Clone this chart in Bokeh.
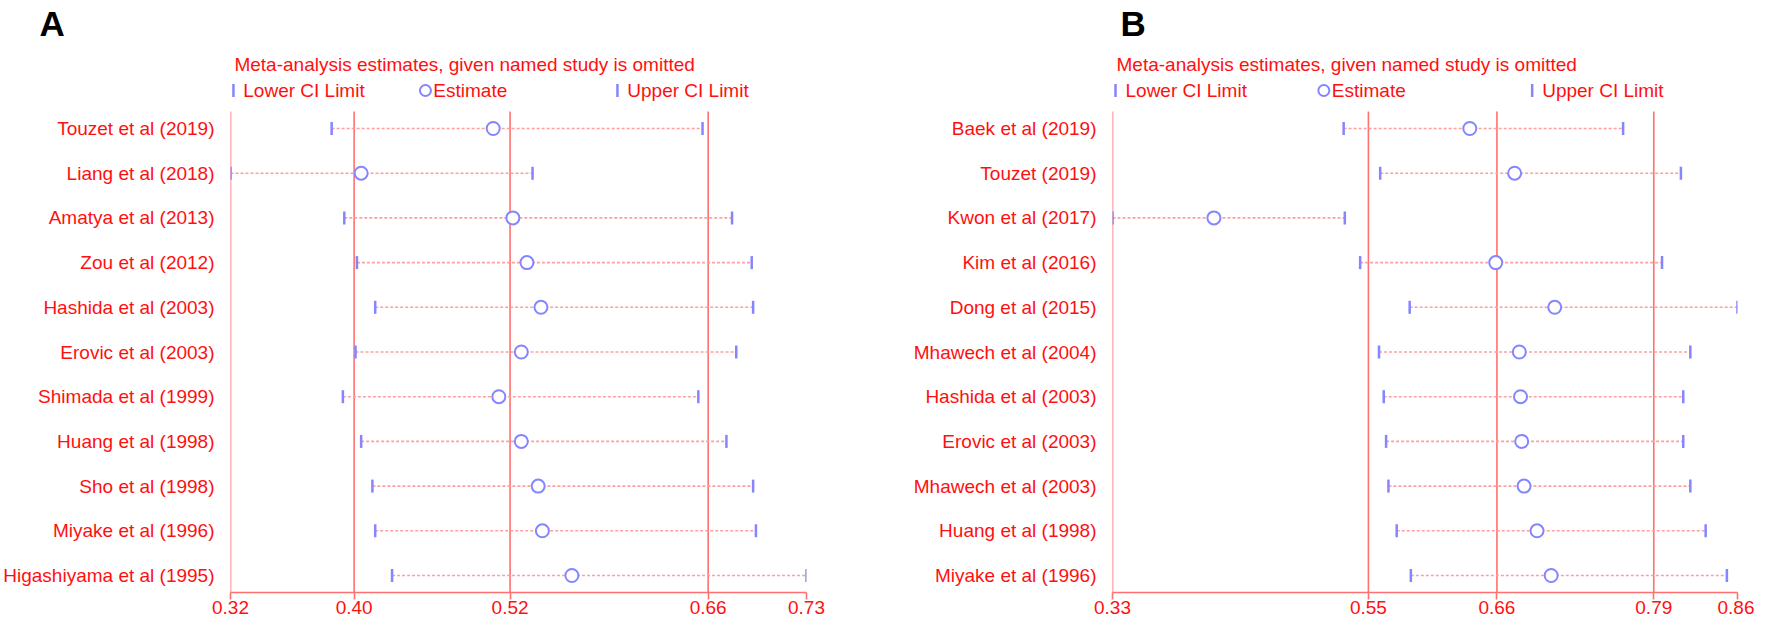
import numpy as np
from bokeh.plotting import figure
from bokeh.models import Range1d, FixedTicker, Title
from bokeh.layouts import row
from bokeh.core.properties import value
from bokeh.embed import file_html
from bokeh.resources import INLINE

# ---------------- data ----------------
a_studies = ["Touzet et al (2019)", "Liang et al (2018)", "Amatya et al (2013)", "Zou et al (2012)",
             "Hashida et al (2003)", "Erovic et al (2003)", "Shimada et al (1999)", "Huang et al (1998)",
             "Sho et al (1998)", "Miyake et al (1996)", "Higashiyama et al (1995)"]
a_lower = [0.392, 0.320, 0.401, 0.410, 0.423, 0.409, 0.400, 0.413, 0.421, 0.423, 0.435]
a_est = [0.507, 0.413, 0.521, 0.531, 0.541, 0.527, 0.511, 0.527, 0.539, 0.542, 0.563]
a_upper = [0.656, 0.535, 0.677, 0.691, 0.692, 0.680, 0.653, 0.673, 0.692, 0.694, 0.730]
a_overall = [0.408, 0.519, 0.660]          # overall lower CI, estimate, upper CI
a_axis_min, a_axis_max = 0.32, 0.73
a_tick_labels = ["0.32", "0.40", "0.52", "0.66", "0.73"]

b_studies = ["Baek et al (2019)", "Touzet (2019)", "Kwon et al (2017)", "Kim et al (2016)",
             "Dong et al (2015)", "Mhawech et al (2004)", "Hashida et al (2003)", "Erovic et al (2003)",
             "Mhawech et al (2003)", "Huang et al (1998)", "Miyake et al (1996)"]
b_lower = [0.526, 0.557, 0.330, 0.540, 0.582, 0.556, 0.560, 0.562, 0.564, 0.571, 0.583]
b_est = [0.633, 0.671, 0.416, 0.655, 0.705, 0.675, 0.676, 0.677, 0.679, 0.690, 0.702]
b_upper = [0.763, 0.812, 0.527, 0.796, 0.860, 0.820, 0.814, 0.814, 0.820, 0.833, 0.851]
b_overall = [0.547, 0.656, 0.789]
b_axis_min, b_axis_max = 0.33, 0.86
b_tick_labels = ["0.33", "0.55", "0.66", "0.79", "0.86"]

title_text = "Meta-analysis estimates, given named study is omitted"
legend_texts = ["Lower CI Limit", "Estimate", "Upper CI Limit"]

# ---------------- style / layout ----------------
FONT = "Liberation Sans"
RED = "#ff1010"
LINE_RED = "#ff7070"
DOT_PINK = "#ffa0a0"
BLUE = "#8585ff"
FS = "19px"
H = 619
BORDER_TOP = 44
BORDER_BOTTOM = 27
FRAME_TOP_WIN = 8 + BORDER_TOP   # window y of the frame top
TITLE_WIN, LEGEND_WIN, ROW1_WIN, PAD = 72, 98, 136, 17


def panel(letter, studies, lower, est, upper, overall, xmin, xmax, tick_labels,
          width, border_left, border_right, letter_dx):
    n = len(studies)
    frame_h = H - BORDER_TOP - BORDER_BOTTOM
    frame_w = width - border_left - border_right
    row1 = ROW1_WIN - FRAME_TOP_WIN     # px from frame top to first row
    s = (frame_h - PAD - row1) / (n - 1)
    y_top = 1 - row1 / s
    y_bot = n + PAD / s
    upx = (xmax - xmin) / frame_w
    ys = list(range(1, n + 1))

    p = figure(width=width, height=H, x_range=Range1d(xmin, xmax), y_range=Range1d(y_bot, y_top),
               output_backend="svg", toolbar_location=None,
               min_border_left=border_left, min_border_right=border_right,
               min_border_top=BORDER_TOP, min_border_bottom=BORDER_BOTTOM)
    p.title = Title(text=letter, align="left", offset=letter_dx, text_font=FONT,
                    text_font_size="35px", text_font_style="bold", text_color="black",
                    standoff=0, vertical_align="top")
    p.grid.visible = False
    p.outline_line_color = None
    p.background_fill_color = "white"
    p.border_fill_color = "white"

    # vertical reference lines (axis min + overall lower / estimate / upper)
    vx = [xmin] + list(overall)
    line_top = 1 - PAD / s
    p.segment(x0=vx, y0=[line_top] * len(vx), x1=vx, y1=[y_bot] * len(vx),
              line_color=LINE_RED, line_width=1.6)

    # dotted CI lines
    p.segment(x0=lower, y0=ys, x1=upper, y1=ys, line_color=DOT_PINK, line_width=1.6, line_dash="3 2")
    # CI limit ticks
    p.scatter(lower, ys, marker="dash", angle=np.pi / 2, size=13, line_color=BLUE, line_width=2.5)
    p.scatter(upper, ys, marker="dash", angle=np.pi / 2, size=13, line_color=BLUE, line_width=2.5)
    # estimates
    p.scatter(est, ys, marker="circle", size=13, fill_color="white", line_color=BLUE, line_width=2)

    # title + legend inside the frame
    title_y = 1 - (ROW1_WIN - TITLE_WIN) / s
    leg_y = 1 - (ROW1_WIN - LEGEND_WIN) / s
    p.text(x=[xmin + 4 * upx], y=[title_y], text=[title_text], text_font=value(FONT),
           text_font_size=FS, text_color=RED, text_baseline="middle", text_align="left")
    col = (xmax - xmin) / 3
    cx = [xmin + k * col for k in range(3)]
    p.scatter([cx[0] + 3 * upx, cx[2] + 3 * upx], [leg_y, leg_y], marker="dash", angle=np.pi / 2,
              size=13, line_color=BLUE, line_width=2.5)
    p.scatter([cx[1] + 3 * upx], [leg_y], marker="circle", size=11, fill_color="white",
              line_color=BLUE, line_width=2)
    p.text(x=[cx[0] + 13 * upx, cx[1] + 11 * upx, cx[2] + 13 * upx], y=[leg_y] * 3, text=legend_texts,
           text_font=value(FONT), text_font_size=FS, text_color=RED, text_baseline="middle",
           text_align="left")

    # x axis
    xt = [xmin] + list(overall) + [xmax]
    xa = p.xaxis[0]
    xa.ticker = FixedTicker(ticks=xt)
    xa.major_label_overrides = {t: l for t, l in zip(xt, tick_labels)}
    xa.axis_line_color = LINE_RED
    xa.axis_line_width = 1.6
    xa.major_tick_line_color = LINE_RED
    xa.major_tick_line_width = 1.6
    xa.major_tick_out = 7
    xa.major_tick_in = 0
    xa.minor_tick_line_color = None
    xa.major_label_standoff = 1
    xa.major_label_text_line_height = 1.0
    xa.major_label_text_color = RED
    xa.major_label_text_font = FONT
    xa.major_label_text_font_size = FS

    # y axis (study names)
    ya = p.yaxis[0]
    ya.ticker = FixedTicker(ticks=ys)
    ya.major_label_overrides = {i: name for i, name in zip(ys, studies)}
    ya.axis_line_color = None
    ya.major_tick_line_color = None
    ya.minor_tick_line_color = None
    ya.major_label_standoff = 10
    ya.major_label_text_color = RED
    ya.major_label_text_font = FONT
    ya.major_label_text_font_size = FS
    return p


pa = panel("A", a_studies, a_lower, a_est, a_upper, a_overall, a_axis_min, a_axis_max, a_tick_labels,
           width=846, border_left=220, border_right=40, letter_dx=-191)
pb = panel("B", b_studies, b_lower, b_est, b_upper, b_overall, b_axis_min, b_axis_max, b_tick_labels,
           width=908, border_left=266, border_right=17, letter_dx=8)

layout = row(pa, pb)
open("out.html", "w").write(file_html(layout, INLINE))
